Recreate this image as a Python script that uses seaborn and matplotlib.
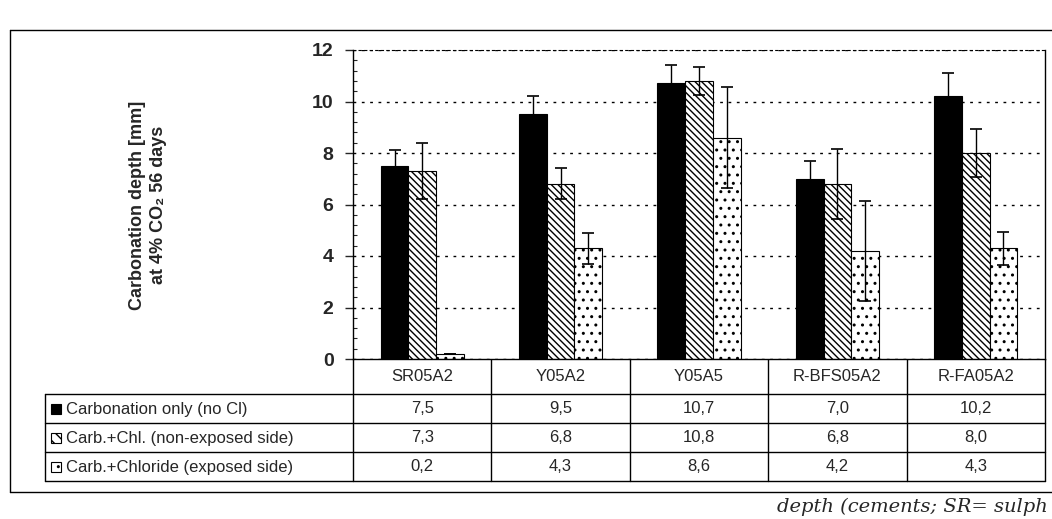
import pandas as pd
import matplotlib.pyplot as plt
import seaborn as sns
from matplotlib.patches import Rectangle
from matplotlib.ticker import MultipleLocator

# data (table values = bar heights)
samples = ["SR05A2", "Y05A2", "Y05A5", "R-BFS05A2", "R-FA05A2"]
series = ["Carbonation only (no Cl)", "Carb.+Chl. (non-exposed side)", "Carb.+Chloride (exposed side)"]
carb_only = [7.5, 9.5, 10.7, 7.0, 10.2]
carb_chl_non = [7.3, 6.8, 10.8, 6.8, 8.0]
carb_chl_exp = [0.2, 4.3, 8.6, 4.2, 4.3]
err_carb_only = [0.6, 0.7, 0.7, 0.7, 0.9]
err_chl_non = [1.1, 0.6, 0.55, 1.35, 0.95]
err_chl_exp = [0.0, 0.6, 1.95, 1.95, 0.65]

values = [carb_only, carb_chl_non, carb_chl_exp]
errors = [err_carb_only, err_chl_non, err_chl_exp]
hatches = ["", "\\\\\\\\\\", ".."]
faces = ["black", "white", "white"]

df = pd.DataFrame({
    "sample": samples * 3,
    "series": [s for s in series for _ in samples],
    "depth": carb_only + carb_chl_non + carb_chl_exp,
})

sns.set_style("white")
plt.rcParams["font.family"] = ["Liberation Sans", "DejaVu Sans"]
plt.rcParams["hatch.linewidth"] = 1.0

W, H = 1052, 519
fig = plt.figure(figsize=(W / 100, H / 100), dpi=100)

# pixel layout
x0, x1 = 353, 1045
y_top, y_zero = 50, 359
ax = fig.add_axes([x0 / W, 1 - y_zero / H, (x1 - x0) / W, (y_zero - y_top) / H])

sns.barplot(data=df, x="sample", y="depth", hue="series", order=samples, hue_order=series,
            palette=["white"] * 3, width=0.6, gap=0, errorbar=None, legend=False, ax=ax)

for cont, fc, hatch, err in zip(ax.containers, faces, hatches, errors):
    xs, ys = [], []
    for bar in cont:
        bar.set_facecolor(fc)
        bar.set_edgecolor("black")
        bar.set_hatch(hatch)
        bar.set_linewidth(0.8)
        xs.append(bar.get_x() + bar.get_width() / 2)
        ys.append(bar.get_height())
    ax.errorbar(xs, ys, yerr=err, fmt="none", ecolor="black", elinewidth=1, capsize=4, capthick=1.2, zorder=5)

ax.set_xlim(-0.5, 4.5)
ax.set_ylim(0, 12)
ax.yaxis.set_minor_locator(MultipleLocator(0.4))
ax.set_yticks(range(0, 13, 2))
ax.set_yticklabels([str(v) for v in range(0, 13, 2)], fontsize=14, fontweight="bold")
ax.tick_params(axis="y", which="major", direction="out", length=6, width=1, left=True, pad=8)
ax.tick_params(axis="y", which="minor", direction="in", length=3, width=0.8, left=True)
ax.set_xticks([])
ax.set_xlabel("")
ax.set_ylabel("")
ax.yaxis.grid(True, which="major", linestyle=(0, (2, 4)), color="black", linewidth=1)
ax.set_axisbelow(True)
for side in ["left", "bottom", "right"]:
    ax.spines[side].set_color("black")
    ax.spines[side].set_linewidth(1)
ax.spines["top"].set_linestyle((0, (2, 3)))
ax.spines["top"].set_color("black")

fig.text(148 / W, 1 - 205 / H, "Carbonation depth [mm]\nat 4% CO\u2082 56 days", rotation=90,
         ha="center", va="center", fontsize=13, fontweight="bold", linespacing=1.3)

# overlay in pixel coordinates for frame + data table
ov = fig.add_axes([0, 0, 1, 1], zorder=-1)
ov.set_xlim(0, W)
ov.set_ylim(H, 0)
ov.axis("off")
ov.patch.set_alpha(0)

lw = 1.0
# outer frame
ov.plot([10, 10], [30, 492], color="black", lw=lw)
ov.plot([10, W], [30, 30], color="black", lw=lw)
ov.plot([10, W], [492, 492], color="black", lw=lw)

rows_y = [359, 394, 423, 452, 481]
col_w = (x1 - x0) / len(samples)
col_edges = [x0 + i * col_w for i in range(len(samples) + 1)]
leg_x = 45

ov.plot([x0, x1], [rows_y[1], rows_y[1]], color="black", lw=lw)
ov.plot([leg_x, x0], [rows_y[1], rows_y[1]], color="black", lw=lw)
for y in rows_y[2:]:
    ov.plot([leg_x, x1], [y, y], color="black", lw=lw)
ov.plot([leg_x, leg_x], [rows_y[1], rows_y[-1]], color="black", lw=lw)
for xe in col_edges:
    ov.plot([xe, xe], [rows_y[0], rows_y[-1]], color="black", lw=lw)

# header row and values
for i, s in enumerate(samples):
    cx = (col_edges[i] + col_edges[i + 1]) / 2
    ov.text(cx, (rows_y[0] + rows_y[1]) / 2, s, ha="center", va="center", fontsize=12)
    for r, vals in enumerate(values):
        cy = (rows_y[r + 1] + rows_y[r + 2]) / 2
        ov.text(cx, cy, f"{vals[i]:.1f}".replace(".", ","), ha="center", va="center", fontsize=12)

# legend column
for r, (name, fc, hatch) in enumerate(zip(series, faces, hatches)):
    cy = (rows_y[r + 1] + rows_y[r + 2]) / 2
    ov.add_patch(Rectangle((51, cy - 5), 10, 10, facecolor=fc, edgecolor="black", hatch=hatch[:3], lw=0.8))
    ov.text(66, cy + 1, name, ha="left", va="center", fontsize=12)

# partially visible caption under the figure
fig.text(1048 / W, 1 - 498 / H, "depth (cements; SR= sulph", ha="right", va="top",
         fontsize=14, style="italic", family="DejaVu Serif")

plt.savefig("out.png", dpi=100)
